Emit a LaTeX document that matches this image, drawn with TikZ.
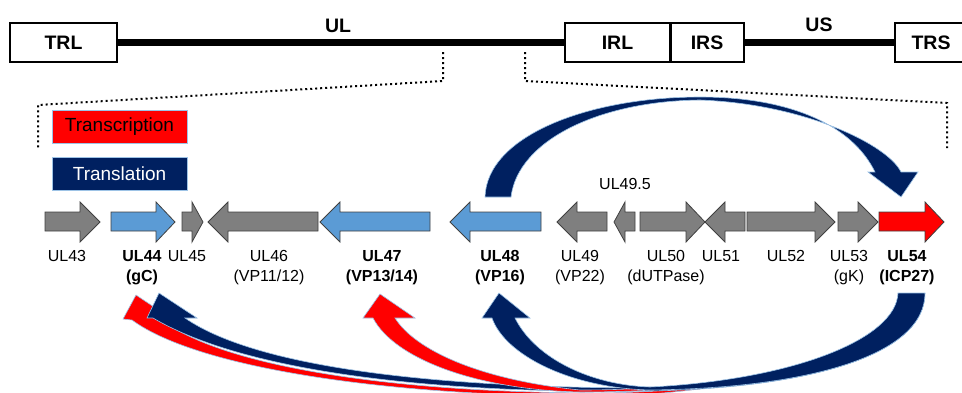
\documentclass[tikz,border=0pt]{standalone}
\usepackage{fontspec}
\setmainfont{Liberation Sans}
\usepackage{tikz}
\usepackage{xcolor}
\usetikzlibrary{arrows.meta,positioning,calc}

\definecolor{tlnavy}{RGB}{0,32,96}
\definecolor{txred}{RGB}{255,0,0}
\definecolor{geneblue}{RGB}{91,155,213}
\definecolor{genegray}{RGB}{127,127,127}
\definecolor{rim}{RGB}{157,195,230}

\begin{document}
\begin{tikzpicture}[
    x=1pt, y=-1pt,
    seg/.style={draw, line width=2, fill=white, minimum height=39,
                inner sep=0, font=\bfseries\fontsize{19.5}{22}\selectfont},
    seglbl/.style={anchor=base, inner sep=0,
                   font=\bfseries\fontsize{19.5}{22}\selectfont},
    key/.style={draw=rim, line width=1, minimum width=135,
                minimum height=33, inner sep=0,
                font=\fontsize{19}{22}\selectfont},
    gene/.style={draw=black!75, line width=0.8},
    lbl/.style={anchor=north, inner sep=0, align=center,
                font=\fontsize{16}{20}\selectfont},
    lblb/.style={lbl, font=\bfseries\fontsize{16}{20}\selectfont},
    dots/.style={line width=2, dash pattern=on 2pt off 3pt},
    arr/.style={draw=rim, line width=0.6}
]
\useasboundingbox (0,0) rectangle (962,392);

\node[seg, minimum width=107] (trl) at (63.5,42.5) {TRL};
\node[seg, minimum width=105] (irl) at (617.5,42.5) {IRL};
\node[seg, minimum width=74]  (irs) at (707,42.5) {IRS};
\node[seg, minimum width=72]  (trs) at (931,42.5) {TRS};
\draw[line width=7] (trl.east) -- (irl.west);
\draw[line width=7] (irs.east) -- (trs.west);
\draw[line width=2] (irl.north east) -- (irl.south east);
\node[seglbl] (ul) at (338,32) {UL};
\node[seglbl] (us) at (819,31) {US};

\draw[dots] (443,52) -- (443,81) -- (38,105) -- (38,150);
\draw[dots] (525,52) -- (525,81) -- (947,103) -- (947,148);

\node[key, fill=txred] (tx) at (119.5,126.5) {Transcription};
\node[key, fill=tlnavy, text=white] (tl) at (119.5,174) {Translation};

\foreach \t/\h/\p/\c in {45/80/100/genegray, 111/156/175/geneblue,
    182/192/203/genegray, 318/228/208/genegray, 430/340/320/geneblue,
    541/470/450/geneblue, 607/577/557/genegray, 635/625/614/genegray,
    640/686/705/genegray, 745/725/705/genegray, 747/815/835/genegray,
    838/858/878/genegray, 879/925/944/txred}
  \filldraw[gene, fill=\c] (\t,212) -- (\h,212) -- (\h,202) -- (\p,222)
      -- (\h,242) -- (\h,231) -- (\t,231) -- cycle;

\node[lbl]  (n43) at (67,250.5)  {UL43};
\node[lblb] (n44) at (142,250.5) {UL44\\(gC)};
\node[lbl]  (n45) at (187,250.5) {UL45};
\node[lbl]  (n46) at (269,250.5) {UL46\\(VP11/12)};
\node[lblb] (n47) at (382,250.5) {UL47\\(VP13/14)};
\node[lblb] (n48) at (500,250.5) {UL48\\(VP16)};
\node[lbl]  (n49) at (580,250.5) {UL49\\(VP22)};
\node[lbl]  (n495) at (625,178)  {UL49.5};
\node[lbl]  (n50) at (666,250.5) {UL50\\(dUTPase)};
\node[lbl]  (n51) at (721,250.5) {UL51};
\node[lbl]  (n52) at (786,250.5) {UL52};
\node[lbl]  (n53) at (849,250.5) {UL53\\(gK)};
\node[lblb] (n54) at (907,250.5) {UL54\\(ICP27)};

\filldraw[arr, fill=tlnavy] (485,197) .. controls (487,135) and (590,97) .. (700,97)
    .. controls (790,97) and (852,125) .. (875,172) -- (868,172) -- (901,197)
    -- (918,172) -- (901,172) .. controls (888,145) and (805,104) .. (700,100)
    .. controls (600,101) and (518,140) .. (511,197) -- cycle;

\filldraw[arr, fill=txred] (867,347) .. controls (800,375) and (700,395) .. (600,396)
    .. controls (400,397) and (200,370) .. (132,320) -- (123,319) -- (136,295)
    -- (172,319) -- (160,319) .. controls (230,372) and (420,393) .. (600,393)
    .. controls (720,392) and (820,370) .. (867,347) -- cycle;
\filldraw[arr, fill=tlnavy] (925,293) .. controls (925,355) and (810,388) .. (650,391)
    .. controls (450,394) and (250,375) .. (153,318) -- (147,318) -- (159,293)
    -- (197,318) -- (185,318) .. controls (260,370) and (450,388) .. (650,388)
    .. controls (800,385) and (915,345) .. (923,305) -- cycle;
\filldraw[arr, fill=txred] (867,347) .. controls (780,382) and (680,392) .. (580,392)
    .. controls (480,390) and (395,360) .. (373,318) -- (363,318) -- (380,294)
    -- (415,318) -- (395,318) .. controls (415,350) and (480,380) .. (580,390)
    .. controls (690,390) and (790,375) .. (867,347) -- cycle;
\filldraw[arr, fill=tlnavy] (925,293) .. controls (925,355) and (810,388) .. (650,390)
    .. controls (570,388) and (505,355) .. (492,318) -- (482,318) -- (499,293)
    -- (530,318) -- (515,318) .. controls (535,358) and (590,385) .. (650,387)
    .. controls (790,380) and (896,340) .. (898,293) -- cycle;

\end{tikzpicture}
\end{document}
